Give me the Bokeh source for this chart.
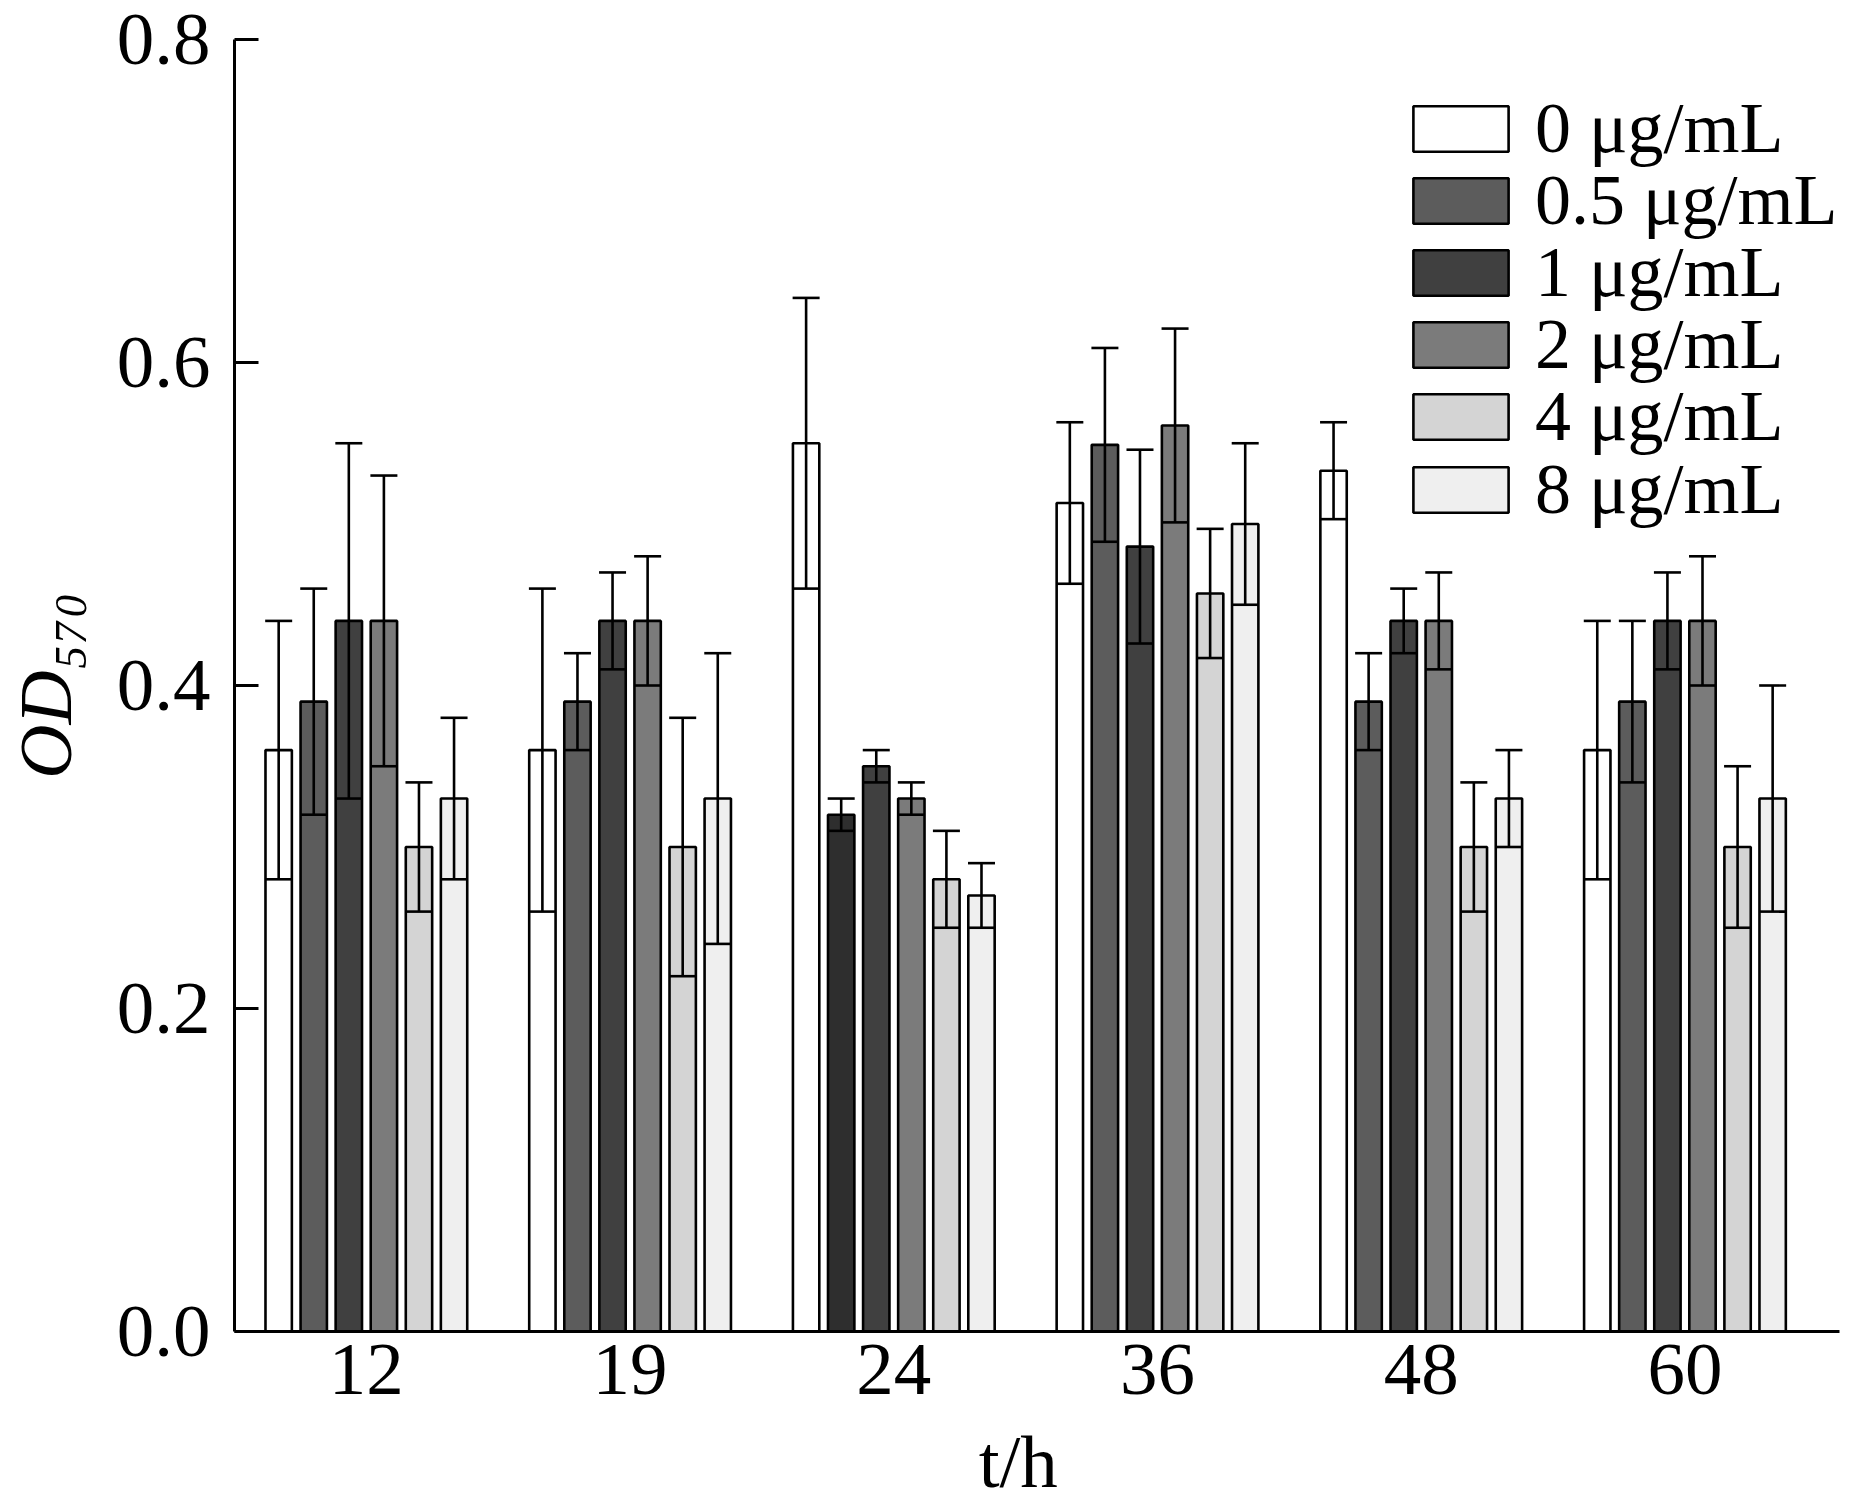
import numpy as np
from bokeh.plotting import figure
from bokeh.models import (ColumnDataSource, Range1d, FixedTicker, PrintfTickFormatter,
                          Whisker, TeeHead, Legend, LegendItem)
from bokeh.embed import file_html
from bokeh.resources import INLINE

# ---- data ----
times = ["12", "19", "24", "36", "48", "60"]
series = ["0 \u03bcg/mL", "0.5 \u03bcg/mL", "1 \u03bcg/mL", "2 \u03bcg/mL", "4 \u03bcg/mL", "8 \u03bcg/mL"]
od_0 = [0.36, 0.36, 0.55, 0.513, 0.533, 0.36]
sd_0 = [0.08, 0.10, 0.09, 0.05, 0.03, 0.08]
od_05 = [0.39, 0.39, 0.32, 0.549, 0.39, 0.39]
sd_05 = [0.07, 0.03, 0.01, 0.06, 0.03, 0.05]
od_1 = [0.44, 0.44, 0.35, 0.486, 0.44, 0.44]
sd_1 = [0.11, 0.03, 0.01, 0.06, 0.02, 0.03]
od_2 = [0.44, 0.44, 0.33, 0.561, 0.44, 0.44]
sd_2 = [0.09, 0.04, 0.01, 0.06, 0.03, 0.04]
od_4 = [0.30, 0.30, 0.28, 0.457, 0.30, 0.30]
sd_4 = [0.04, 0.08, 0.03, 0.04, 0.04, 0.05]
od_8 = [0.33, 0.33, 0.27, 0.50, 0.33, 0.33]
sd_8 = [0.05, 0.09, 0.02, 0.05, 0.03, 0.07]
y_ticks = [0.0, 0.2, 0.4, 0.6, 0.8]
x_title = "t/h"
y_title = "OD\u2085\u2087\u2080"

# ---- styles ----
FONT = "Liberation Serif"
fills = ["#ffffff", "#5c5c5c", "#404040", "#7b7b7b", "#d4d4d4", "#efefef"]
fill_exceptions = {(1, 2): "#2e2e2e"}  # darker 0.5 ug/mL bar at 24 h in the original
LW = 2.6
pitch = 0.133
bar_w = 0.1

W, H = 1852, 1506
FRAME_BOTTOM = 1331  # px from top of canvas
p = figure(width=W, height=H, x_range=Range1d(-0.5, 5.586), y_range=Range1d(0, 0.8),
           output_backend="svg", toolbar_location=None,
           min_border_left=234, min_border_right=13, min_border_top=39,
           min_border_bottom=H - FRAME_BOTTOM)
p.outline_line_color = None
p.grid.visible = False
p.background_fill_color = "white"
p.border_fill_color = "white"

for ax in (p.xaxis[0], p.yaxis[0]):
    ax.axis_line_width = 3
    ax.axis_line_color = "black"
    ax.major_label_text_font = FONT
    ax.major_label_text_font_size = "75px"
    ax.major_label_text_color = "black"
    ax.minor_tick_line_color = None
    ax.major_tick_line_width = 3
    ax.major_tick_line_color = "black"
    ax.axis_label_text_font = FONT
    ax.axis_label_text_font_size = "75px"
    ax.axis_label_text_color = "black"

p.xaxis.ticker = FixedTicker(ticks=list(range(len(times))))
p.xaxis.major_label_overrides = {i: t for i, t in enumerate(times)}
p.xaxis.major_tick_in = 0
p.xaxis.major_tick_out = 0
p.xaxis.major_label_standoff = 13
# trailing en space nudges the centred title slightly left, as in the original
p.xaxis.axis_label = x_title + "\u2002"
p.xaxis.axis_label_text_font_style = "normal"
p.xaxis.axis_label_standoff = 23

p.yaxis.ticker = FixedTicker(ticks=y_ticks)
p.yaxis.formatter = PrintfTickFormatter(format="%.1f")
p.yaxis.major_tick_in = 24
p.yaxis.major_tick_out = 0
p.yaxis.major_label_standoff = 24
p.yaxis.axis_label = y_title
p.yaxis.axis_label_text_font_style = "italic"
p.yaxis.axis_label_standoff = 27

means = [od_0, od_05, od_1, od_2, od_4, od_8]
sds = [sd_0, sd_05, sd_1, sd_2, sd_4, sd_8]
idx = np.arange(len(times))
items = []
for i, (name, m, s) in enumerate(zip(series, means, sds)):
    m = np.array(m)
    s = np.array(s)
    colors = [fill_exceptions.get((i, g), fills[i]) for g in range(len(times))]
    src = ColumnDataSource(dict(x=idx + (i - 2.5) * pitch, top=m, upper=m + s, lower=m - s, color=colors))
    r = p.vbar(x="x", top="top", bottom=0, width=bar_w, source=src,
               fill_color="color", line_color="black", line_width=LW)
    wk = Whisker(base="x", upper="upper", lower="lower", source=src, level="overlay",
                 line_color="black", line_width=LW,
                 upper_head=TeeHead(size=27, line_color="black", line_width=LW),
                 lower_head=TeeHead(size=27, line_color="black", line_width=LW))
    p.add_layout(wk)
    items.append(LegendItem(label=name, renderers=[r]))

# one single-row legend per entry, stacked with the original's row pitch
ROW0, ROW_PITCH, ITEM_H = 128, 72.2, 83
for k, it in enumerate(items):
    centre = ROW0 + ROW_PITCH * k
    lg = Legend(items=[it], location=(1167, FRAME_BOTTOM - centre - ITEM_H / 2),
                orientation="vertical", padding=0, spacing=0, margin=0,
                glyph_width=119, glyph_height=57, label_height=57, label_standoff=15,
                label_text_font=FONT, label_text_font_size="72px", label_text_color="black",
                border_line_color=None, background_fill_alpha=0)
    p.add_layout(lg)

open("out.html", "w").write(file_html(p, INLINE))
